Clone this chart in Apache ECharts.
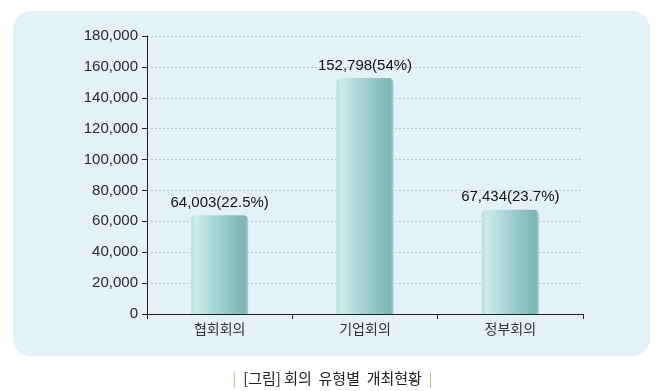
<!DOCTYPE html>
<html><head><meta charset="utf-8">
<script src="https://cdn.jsdelivr.net/npm/echarts@6/dist/echarts.min.js"></script>
<style>html,body{margin:0;padding:0;background:#fff}#c{width:665px;height:391px}</style>
</head><body><div id="c"></div>
<script>
const categories = ['협회회의', '기업회의', '정부회의'];
const values = [64003, 152798, 67434];
const shares = ['22.5%', '54%', '23.7%'];
const yTicks = [0, 20000, 40000, 60000, 80000, 100000, 120000, 140000, 160000, 180000];
const captionParts = ['[그림]', '회의', '유형별', '개최현황'];

const fmt = v => v.toLocaleString('en-US');
const chart = echarts.init(document.getElementById('c'), null, {renderer: 'canvas'});
chart.setOption({
  animation: false,
  backgroundColor: '#ffffff',
  graphic: [{
    type: 'rect', z: -10,
    shape: {x: 13, y: 11, width: 637, height: 345, r: 18},
    style: {fill: '#e4f1f9'}
  }],
  title: {
    text: '{p||}  ' + captionParts[0] + ' ' + captionParts[1] + '  ' + captionParts[2] + '  ' + captionParts[3] + '  {p||}',
    left: 'center', top: 366,
    textStyle: {
      fontFamily: 'Noto Sans CJK KR', fontSize: 15, fontWeight: 'normal', color: '#222',
      rich: {p: {color: '#c7b88c', fontSize: 15, fontFamily: 'Noto Sans CJK KR'}}
    }
  },
  grid: {left: 147, right: 82, top: 36, bottom: 77},
  xAxis: {
    type: 'category', data: categories,
    axisLine: {lineStyle: {color: '#222', width: 1}},
    axisTick: {show: true, length: 5, lineStyle: {color: '#222'}, alignWithLabel: false},
    axisLabel: {color: '#333', fontSize: 14, margin: 8, fontFamily: 'Noto Sans CJK KR'},
    splitLine: {show: false}
  },
  yAxis: {
    type: 'value', min: yTicks[0], max: yTicks[yTicks.length - 1], interval: 20000,
    axisLine: {show: true, lineStyle: {color: '#222', width: 1}},
    axisTick: {show: true, length: 5, lineStyle: {color: '#222'}},
    axisLabel: {color: '#2a2a2a', fontSize: 15, margin: 9, fontFamily: 'Liberation Sans', formatter: v => fmt(v)},
    splitLine: {lineStyle: {color: '#b8c4cc', type: [2, 2], width: 1}}
  },
  series: [{
    type: 'bar', data: values, barWidth: 57,
    itemStyle: {
      borderRadius: [5, 5, 0, 0],
      color: new echarts.graphic.LinearGradient(0, 0, 1, 0, [
        {offset: 0, color: '#b6dcdc'},
        {offset: 0.08, color: '#cbecec'},
        {offset: 0.45, color: '#a6d3d3'},
        {offset: 0.85, color: '#82baba'},
        {offset: 0.95, color: '#7fb5b5'},
        {offset: 1, color: '#a9d0d0'}
      ])
    },
    label: {
      show: true, position: 'top', distance: 5,
      color: '#111', fontSize: 15, fontFamily: 'Liberation Sans',
      formatter: p => fmt(values[p.dataIndex]) + '(' + shares[p.dataIndex] + ')'
    }
  }]
});
</script></body></html>
